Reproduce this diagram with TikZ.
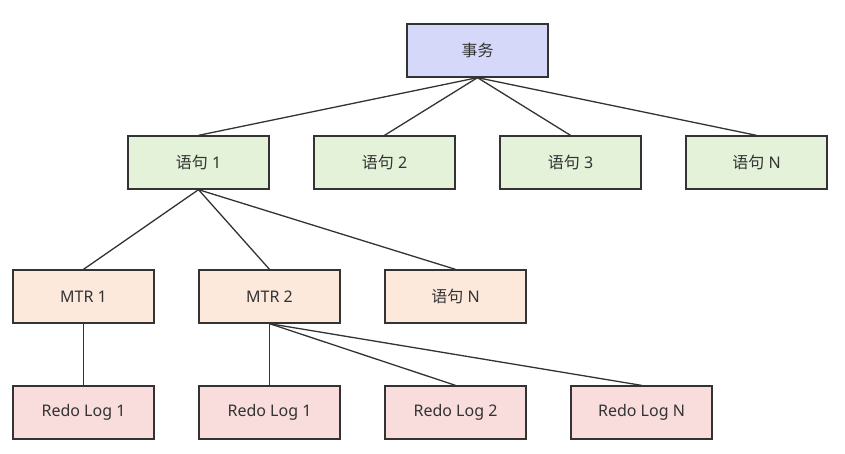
\documentclass[tikz,border=0pt]{standalone}
\usepackage{fontspec}
\setmainfont{Noto Sans}
\newfontfamily\cjk{Noto Sans CJK SC}
\definecolor{cA}{HTML}{D5D8F8}
\definecolor{cB}{HTML}{E3F2D8}
\definecolor{cC}{HTML}{FCE9DC}
\definecolor{cD}{HTML}{F9DCDC}
\definecolor{ln}{HTML}{333333}
\begin{document}
\begin{tikzpicture}[x=1pt,y=-1pt,
  box/.style={draw=ln,line width=1.3pt,minimum width=141pt,minimum height=53pt,inner sep=0pt,text=ln,font=\fontsize{16pt}{18pt}\selectfont},
  conn/.style={draw=ln,line width=1.3pt}]
\useasboundingbox[fill=white] (0,0) rectangle (845,453);
\node[box,fill=cA] (T) at (477.5,50.5) {{\cjk 事务}};
\node[box,fill=cB] (S1) at (198.5,162.5) {{\cjk 语句} 1};
\node[box,fill=cB] (S2) at (384.5,162.5) {{\cjk 语句} 2};
\node[box,fill=cB] (S3) at (570.5,162.5) {{\cjk 语句} 3};
\node[box,fill=cB] (SN) at (756.5,162.5) {{\cjk 语句} N};
\node[box,fill=cC] (M1) at (83.5,296.5) {MTR 1};
\node[box,fill=cC] (M2) at (269.5,296.5) {MTR 2};
\node[box,fill=cC] (M3) at (455.5,296.5) {{\cjk 语句} N};
\node[box,fill=cD] (R1) at (83.5,412.5) {Redo Log 1};
\node[box,fill=cD] (R2) at (269.5,412.5) {Redo Log 1};
\node[box,fill=cD] (R3) at (455.5,412.5) {Redo Log 2};
\node[box,fill=cD] (R4) at (641.5,412.5) {Redo Log N};
\foreach \n in {S1,S2,S3,SN} \draw[conn] (T.south) -- (\n.north);
\foreach \n in {M1,M2,M3} \draw[conn] (S1.south) -- (\n.north);
\draw[conn] (M1.south) -- (R1.north);
\foreach \n in {R2,R3,R4} \draw[conn] (M2.south) -- (\n.north);
\end{tikzpicture}
\end{document}
